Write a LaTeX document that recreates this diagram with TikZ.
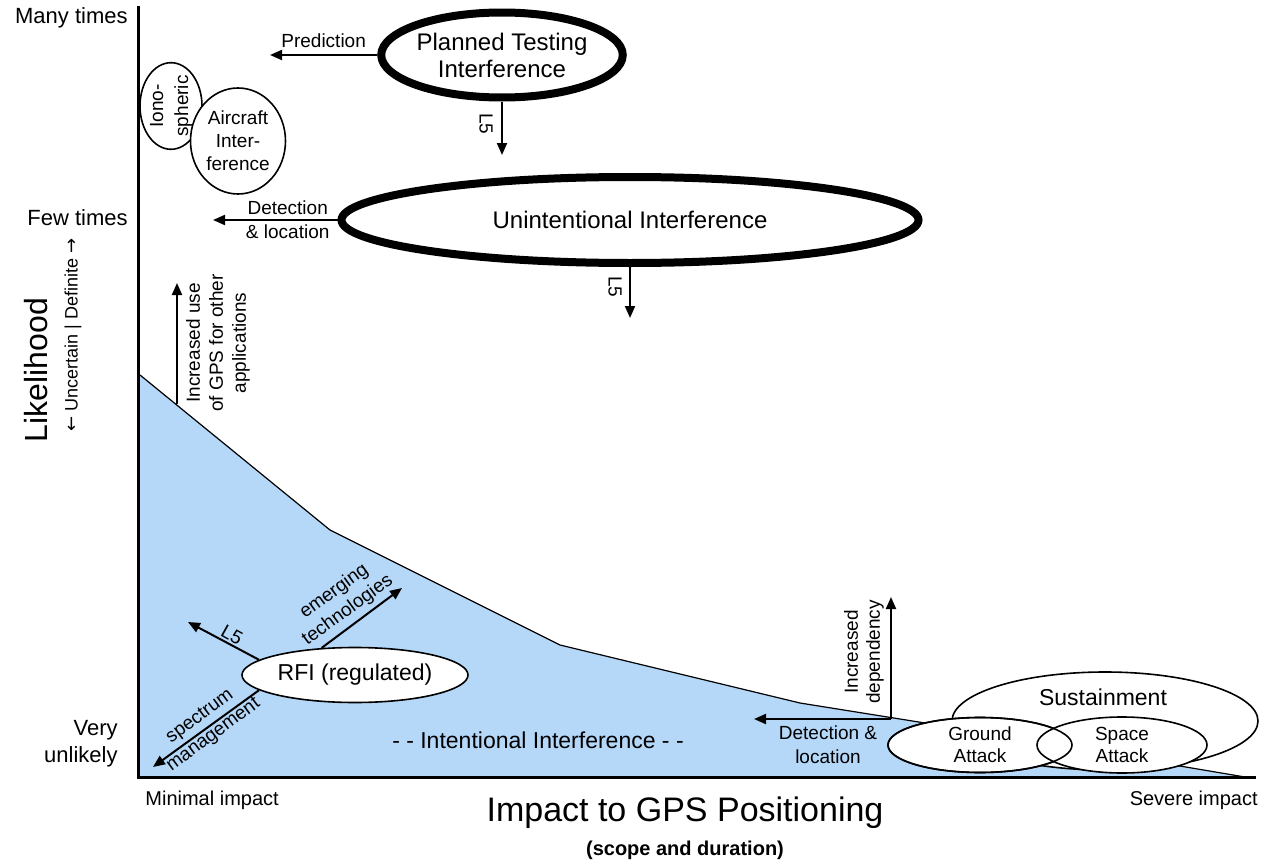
\documentclass[tikz,border=0pt]{standalone}
\usepackage{fontspec}
\setmainfont{Liberation Sans}
\newfontfamily\gpssym{DejaVu Sans}
\usetikzlibrary{
  arrows.meta,
  shapes.geometric,
  positioning
}
\definecolor{gpsArea}{HTML}{B5D7F8}
\tikzset{
  gpsell/.style={
    draw, ellipse, fill=white, inner sep=0pt, align=center, line width=0.8pt
  },
  heavyell/.style={gpsell, line width=4pt},
  flow/.style={-{Triangle[length=6pt, width=5pt]}, line width=1pt},
  axisline/.style={line width=1.5pt},
  edgeline/.style={line width=0.6pt},
  tag/.style={inner sep=0pt, align=center, font=\fontsize{9.5}{11.5}\selectfont},
  ticktag/.style={inner sep=0pt, align=right, font=\fontsize{11}{13.5}\selectfont},
  endtag/.style={inner sep=0pt, font=\fontsize{10}{12}\selectfont},
  bigtag/.style={inner sep=0pt, align=center, font=\fontsize{11.5}{13.5}\selectfont}
}
\begin{document}
\begin{tikzpicture}[x=0.5pt, y=-0.5pt]
  \useasboundingbox (0,0) rectangle (1265,867);
  % likelihood region
  \fill[gpsArea] (140,375) -- (330,530) -- (560,645) -- (800,703) -- (925,723) -- (1245,777) -- (140,777) -- cycle;
  \draw[edgeline] (140,375) -- (330,530) -- (560,645) -- (800,703) -- (925,723) -- (1245,777);
  \draw[axisline] (138,6) -- (138,777) -- (1256,777);

  % axis texts
  \node[ticktag, anchor=east] (many) at (128,18) {Many times};
  \node[ticktag, anchor=east] (few) at (128,218) {Few times};
  \node[ticktag, anchor=east] (vunl) at (118,744) {Very\\unlikely};
  \node[endtag, anchor=west] (minimp) at (145,800) {Minimal impact};
  \node[endtag, anchor=east] (sevimp) at (1258,800) {Severe impact};
  \node[inner sep=0pt, font=\fontsize{17}{20}\selectfont] (xtitle) at (685,813) {Impact to GPS Positioning};
  \node[inner sep=0pt, font=\fontsize{10}{12}\selectfont\bfseries, below=5.5pt of xtitle] (xsub) {(scope and duration)};
  \node[inner sep=0pt, rotate=90, font=\fontsize{16}{19}\selectfont] (ytitle) at (36,370) {Likelihood};
  \node[inner sep=0pt, rotate=90, font=\fontsize{9}{11}\selectfont] (ysub) at (73,335) {{\gpssym ←} Uncertain | Definite {\gpssym →}};

  % interference sources
  \node[heavyell, minimum width=116.5pt, minimum height=42.5pt, font=\fontsize{12}{13.5}\selectfont] (pti) at (502,55) {Planned Testing\\Interference};
  \node[heavyell, minimum width=288.5pt, minimum height=43pt, font=\fontsize{12}{14}\selectfont] (uui) at (630,220) {Unintentional Interference};
  \node[gpsell, rotate=90, minimum width=42.5pt, minimum height=31pt, font=\fontsize{9.5}{12.5}\selectfont] (iono) at (171,106) {Iono-\\spheric};
  \node[gpsell, minimum width=47.5pt, minimum height=53pt, font=\fontsize{9.5}{11.5}\selectfont] (air) at (238,141) {Aircraft\\Inter-\\ference};
  \node[gpsell, minimum width=113pt, minimum height=27.5pt, font=\fontsize{11.5}{13.5}\selectfont] (rfi) at (355,675) {RFI (regulated)};
  \node[gpsell, minimum width=153pt, minimum height=49pt] (sus) at (1105,721) {};
  \node[bigtag] (sustxt) at (1103,697) {Sustainment};
  \node[gpsell, minimum width=92pt, minimum height=27.5pt, font=\fontsize{9.5}{11}\selectfont] (gnd) at (980,745) {Ground\\Attack};
  \node[gpsell, minimum width=85pt, minimum height=28pt, font=\fontsize{9.5}{11}\selectfont] (spc) at (1122,745) {Space\\Attack};
  \draw[line width=0.8pt] (gnd.center) ellipse [x radius=92, y radius=27.5];
  \node[bigtag] (intl) at (538,740) {- - Intentional Interference - -};

  % trends
  \coordinate (predtip) at (270,55);
  \draw[flow] (pti.west) -- node[tag, above=3pt] {Prediction} (predtip);
  \coordinate (l5atip) at (502,155);
  \draw[flow] (pti.south) -- (l5atip);
  \node[tag, rotate=-90] (l5a) at (486,124) {L5};

  \coordinate (det1tip) at (213,220);
  \draw[flow] (uui.west) -- node[tag, pos=0.4, above=2pt] {Detection} node[tag, pos=0.4, below=2pt] {\& location} (det1tip);
  \coordinate (l5btip) at (630,318);
  \draw[flow] (uui.south) -- (l5btip);
  \node[tag, rotate=-90] (l5b) at (615,287) {L5};

  \coordinate (incbase) at (177,404);
  \coordinate (inctip) at (177,283);
  \draw[flow] (incbase) -- (inctip);
  \node[tag, rotate=90] (inclbl) at (218,343) {Increased use\\of GPS for other\\applications};

  \coordinate (rfil5tip) at (188,622);
  \coordinate (emtip) at (402,588);
  \coordinate (sptip) at (153,767);
  \draw[flow] (rfi.171) -- (rfil5tip);
  \draw[flow] (rfi.141) -- (emtip);
  \draw[flow] (rfi.189) -- (sptip);
  \node[tag, rotate=-29] (rfil5) at (232,635) {L5};
  \node[tag, rotate=36] (emlbl) at (341,601) {emerging\\technologies};
  \node[tag, rotate=36.5] (splbl) at (207,726) {spectrum\\management};

  \coordinate (depbase) at (891,719);
  \coordinate (det2tip) at (754,719);
  \coordinate (deptip) at (891,597);
  \draw[flow] (depbase) -- (det2tip);
  \draw[flow] (depbase) -- (deptip);
  \node[tag, font=\fontsize{9.5}{12}\selectfont] (det2lbl) at (828,745) {Detection \&\\location};
  \node[tag, rotate=90, font=\fontsize{9.5}{11}\selectfont] (deplbl) at (864,652) {Increased\\dependency};
\end{tikzpicture}
\end{document}
